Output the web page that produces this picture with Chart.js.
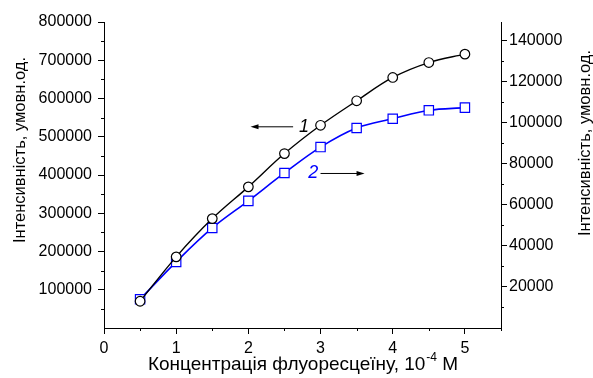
<!DOCTYPE html>
<html>
<head>
<meta charset="utf-8">
<script src="https://cdn.jsdelivr.net/npm/chart.js@4.4.1/dist/chart.umd.min.js"></script>
<style>
body { margin: 0; background: #fff; }
canvas { display: block; }
</style>
</head>
<body>
<canvas id="grafico" width="593" height="378"></canvas>
<script>
// dados
const concentracao = [0.5, 1, 1.5, 2, 2.5, 3, 3.5, 4, 4.5, 5];
const serie1 = [70000, 186000, 286000, 369000, 456000, 530000, 594000, 655000, 694000, 716000];
const serie2 = [14000, 32200, 48700, 61900, 75500, 88100, 97400, 101900, 106000, 107300];

const ticksX = [0, 1, 2, 3, 4, 5];
const ticksEsq = [100000, 200000, 300000, 400000, 500000, 600000, 700000, 800000];
const ticksDir = [20000, 40000, 60000, 80000, 100000, 120000, 140000];

const tituloX = 'Концентрація флуоресцеїну, 10';
const expoenteX = '-4';
const unidadeX = ' M';
const tituloY = 'Інтенсивність, умовн.од.';
const rotulo1 = '1';
const rotulo2 = '2';

const FONTE = 'Arial, "Liberation Sans", sans-serif';

// =========================
// TRAÇOS MENORES E TEXTOS
// =========================

function tracoMenor(ctx, scale, passo, fim, tam) {
    ctx.save();
    ctx.strokeStyle = '#000';
    ctx.lineWidth = 1;
    ctx.beginPath();
    for (let v = passo / 2; v <= fim + 1e-9; v += passo) {
        const p = Math.round(scale.getPixelForValue(v)) + 0.5;
        if (scale.axis === 'x') {
            ctx.moveTo(p, scale.top);
            ctx.lineTo(p, scale.top + tam);
        } else if (scale.position === 'left') {
            ctx.moveTo(scale.right, p);
            ctx.lineTo(scale.right - tam, p);
        } else {
            ctx.moveTo(scale.left, p);
            ctx.lineTo(scale.left + tam, p);
        }
    }
    ctx.stroke();
    ctx.restore();
}

function seta(ctx, x1, x2, y) {
    const dir = Math.sign(x2 - x1);
    ctx.beginPath();
    ctx.moveTo(x1, y);
    ctx.lineTo(x2 - dir * 6, y);
    ctx.stroke();
    ctx.beginPath();
    ctx.moveTo(x2, y);
    ctx.lineTo(x2 - dir * 8, y - 2.5);
    ctx.lineTo(x2 - dir * 8, y + 2.5);
    ctx.closePath();
    ctx.fill();
}

const extras = {
    id: 'extras',
    afterDraw(chart) {
        const ctx = chart.ctx;
        const sx = chart.scales.x;
        const se = chart.scales.y;
        const sd = chart.scales.y2;
        const area = chart.chartArea;

        tracoMenor(ctx, sx, 1, 5.5, 3);
        tracoMenor(ctx, se, 100000, 800000, 3);
        tracoMenor(ctx, sd, 20000, 149000, 3);

        ctx.save();
        ctx.fillStyle = '#000';
        ctx.textBaseline = 'middle';

        // título x com expoente
        const fx = '19px ' + FONTE;
        const fs = '12px ' + FONTE;
        ctx.font = fx;
        const w1 = ctx.measureText(tituloX).width;
        const w3 = ctx.measureText(unidadeX).width;
        ctx.font = fs;
        const w2 = ctx.measureText(expoenteX).width;
        let x0 = (area.left + area.right) / 2 - (w1 + w2 + w3) / 2;
        const yT = 365;
        ctx.textAlign = 'left';
        ctx.font = fx;
        ctx.fillText(tituloX, x0, yT);
        ctx.font = fs;
        ctx.fillText(expoenteX, x0 + w1 + 1, yT - 7);
        ctx.font = fx;
        ctx.fillText(unidadeX, x0 + w1 + w2 + 1, yT);

        // títulos y
        ctx.textAlign = 'center';
        ctx.font = '16.5px ' + FONTE;
        [[20, 150], [585, 143]].forEach(([xc, yc]) => {
            ctx.save();
            ctx.translate(xc, yc);
            ctx.rotate(-Math.PI / 2);
            ctx.fillText(tituloY, 0, 0);
            ctx.restore();
        });

        // rótulos das curvas
        ctx.font = 'italic 18px ' + FONTE;
        ctx.lineWidth = 1;
        ctx.strokeStyle = '#000';
        ctx.fillStyle = '#000';
        const yr1 = se.getPixelForValue(526000);
        ctx.fillText(rotulo1, sx.getPixelForValue(2.77), yr1);
        seta(ctx, sx.getPixelForValue(2.62), sx.getPixelForValue(2.03), yr1);

        const yr2 = se.getPixelForValue(404000);
        ctx.fillStyle = '#0000ff';
        ctx.fillText(rotulo2, sx.getPixelForValue(2.9), yr2);
        ctx.fillStyle = '#000';
        seta(ctx, sx.getPixelForValue(3.0), sx.getPixelForValue(3.61), yr2);
        ctx.restore();
    }
};

// =========================
// GRÁFICO
// =========================

const eixoPadrao = {
    border: { display: true, color: '#000', width: 1 },
    grid: { drawOnChartArea: false, color: '#000', tickLength: 6, tickWidth: 1 },
    ticks: { color: '#000', font: { size: 16, family: FONTE }, callback: v => String(v) }
};

new Chart(document.getElementById('grafico'), {
    type: 'line',
    data: {
        datasets: [
            {
                label: '1',
                data: concentracao.map((c, i) => ({ x: c, y: serie1[i] })),
                yAxisID: 'y',
                borderColor: '#000',
                borderWidth: 1.4,
                pointStyle: 'circle',
                pointRadius: 4.8,
                pointBackgroundColor: '#fff',
                pointBorderColor: '#000',
                pointBorderWidth: 1.2,
                tension: 0.35
            },
            {
                label: '2',
                data: concentracao.map((c, i) => ({ x: c, y: serie2[i] })),
                yAxisID: 'y2',
                borderColor: '#0000ff',
                borderWidth: 1.6,
                pointStyle: 'rect',
                pointRadius: 6.6,
                pointBackgroundColor: '#fff',
                pointBorderColor: '#0000ff',
                pointBorderWidth: 1.2,
                tension: 0.35
            }
        ]
    },
    options: {
        responsive: false,
        animation: false,
        devicePixelRatio: 1,
        layout: { padding: { top: 22, left: 0, right: 0, bottom: 0 } },
        plugins: { legend: { display: false }, tooltip: { enabled: false } },
        scales: {
            x: {
                ...eixoPadrao,
                type: 'linear',
                min: 0,
                max: 5.5,
                afterBuildTicks: s => { s.ticks = ticksX.map(v => ({ value: v })); },
                afterFit: s => { s.height = 50; },
                ticks: { ...eixoPadrao.ticks, padding: 5, maxRotation: 0 }
            },
            y: {
                ...eixoPadrao,
                position: 'left',
                min: 0,
                max: 800000,
                afterBuildTicks: s => { s.ticks = ticksEsq.map(v => ({ value: v })); },
                afterFit: s => { s.width = 104; },
                ticks: { ...eixoPadrao.ticks, padding: 6 }
            },
            y2: {
                ...eixoPadrao,
                position: 'right',
                min: 0,
                max: 149000,
                afterBuildTicks: s => { s.ticks = ticksDir.map(v => ({ value: v })); },
                afterFit: s => { s.width = 92; },
                ticks: { ...eixoPadrao.ticks, padding: 2 }
            }
        }
    },
    plugins: [extras]
});
</script>
</body>
</html>
